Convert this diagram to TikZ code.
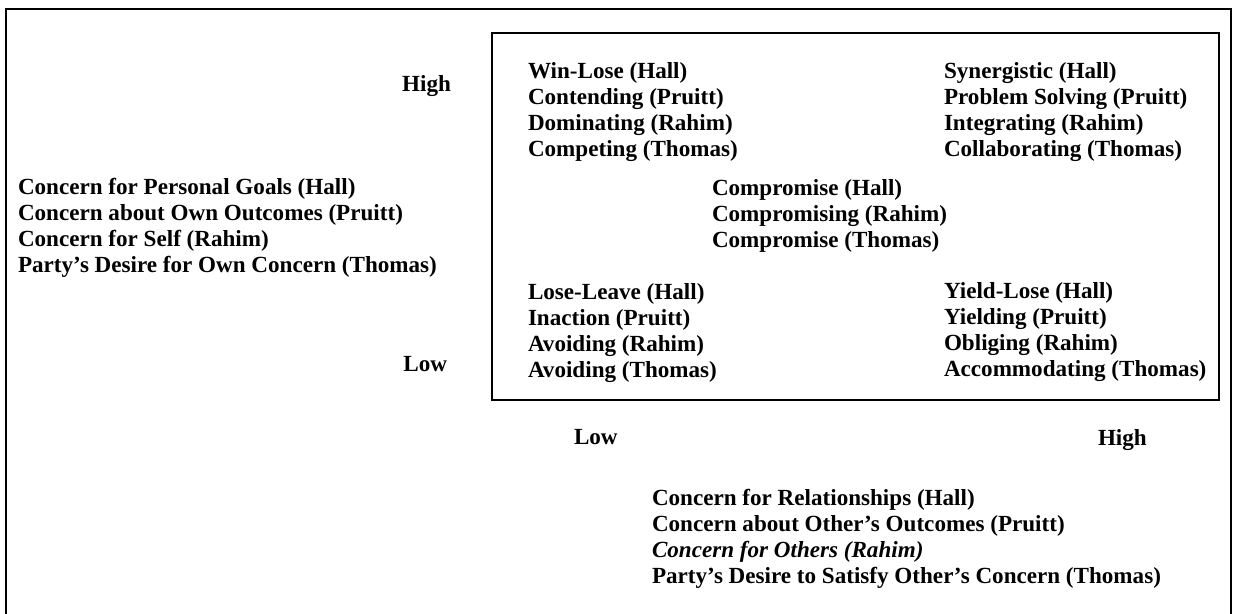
\documentclass[tikz,border=0pt]{standalone}
\usepackage{fontspec}
\setmainfont{Liberation Serif}
\begin{document}
\begin{tikzpicture}[x=1pt,y=-1pt,
  txt/.style={inner sep=0pt, outer sep=0pt, align=left,
    font=\fontsize{23.1}{26}\selectfont\bfseries},
  frame/.style={draw=black, line width=2pt},
  quad/.style={draw=black, line width=1.6pt}]
\useasboundingbox (0,0) rectangle (1236,613);
% outer frame (open at the bottom)
\coordinate (ob1) at (6,620);
\coordinate (ot1) at (6,8.5);
\coordinate (ot2) at (1231,8.5);
\coordinate (ob2) at (1231,620);
\draw[frame] (ob1) -- (ot1) -- (ot2) -- (ob2);
% inner box
\node[quad, minimum width=727pt, minimum height=367pt, inner sep=0pt, anchor=north west] (box) at (491,32) {};
% quadrant contents
\node[txt, anchor=north west] (tl) at (528,62.5) {Win-Lose (Hall)\\Contending (Pruitt)\\Dominating (Rahim)\\Competing (Thomas)};
\node[txt, anchor=north west] (tr) at (944,62.5) {Synergistic (Hall)\\Problem Solving (Pruitt)\\Integrating (Rahim)\\Collaborating (Thomas)};
\node[txt, anchor=north west] (mid) at (712,179.5) {Compromise (Hall)\\Compromising (Rahim)\\Compromise (Thomas)};
\node[txt, anchor=north west] (bl) at (528,283.5) {Lose-Leave (Hall)\\Inaction (Pruitt)\\Avoiding (Rahim)\\Avoiding (Thomas)};
\node[txt, anchor=north west] (br) at (944,282.5) {Yield-Lose (Hall)\\Yielding (Pruitt)\\Obliging (Rahim)\\Accommodating (Thomas)};
% vertical axis
\node[txt, anchor=north east] (yhigh) at (451,75.5) {High};
\node[txt, anchor=north east] (ylow) at (447,356.5) {Low};
\node[txt, anchor=north west] (ylab) at (18,178.5) {Concern for Personal Goals (Hall)\\Concern about Own Outcomes (Pruitt)\\Concern for Self (Rahim)\\Party's Desire for Own Concern (Thomas)};
% horizontal axis
\node[txt, anchor=north west] (xlow) at (574,429.5) {Low};
\node[txt, anchor=north west] (xhigh) at (1098,429.5) {High};
\node[txt, anchor=north west] (xlab) at (652,489.5) {Concern for Relationships (Hall)\\Concern about Other's Outcomes (Pruitt)\\{\itshape Concern for Others (Rahim)}\\Party's Desire to Satisfy Other's Concern (Thomas)};
\end{tikzpicture}
\end{document}
